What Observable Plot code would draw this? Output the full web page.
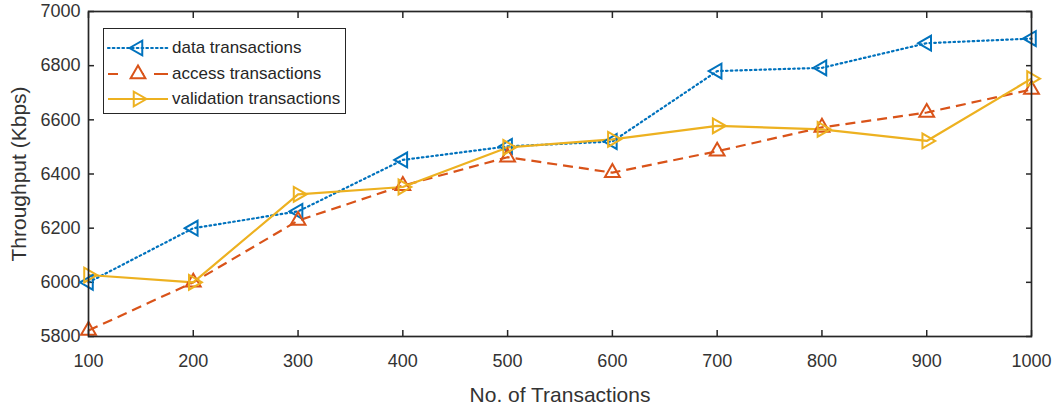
<!DOCTYPE html>
<html>
<head>
<meta charset="utf-8">
<script src="https://cdn.jsdelivr.net/npm/d3@7"></script>
<script src="https://cdn.jsdelivr.net/npm/@observablehq/plot@0.6"></script>
<style>
  html, body { margin: 0; padding: 0; background: #fff; }
  #wrap { position: relative; width: 1061px; height: 408px; font-family: "Liberation Sans", Arial, Helvetica, sans-serif; }
  #wrap svg [aria-label$="tick label"] text { font-size: 18px; fill: #333; }
  #wrap svg [aria-label$="label"]:not([aria-label$="tick label"]) text { font-size: 21px; fill: #333; }
  #legend { position: absolute; left: 103px; top: 28px; width: 243px; height: 86px; border: 1.5px solid #262626; background: #fff; box-sizing: border-box; }
  .row { position: absolute; left: 0; height: 26px; display: flex; align-items: center; }
  .row span { font-size: 17px; color: #262626; margin-left: 4px; }
</style>
</head>
<body>
<div id="wrap"></div>
<script>
const transactions = [100, 200, 300, 400, 500, 600, 700, 800, 900, 1000];
const dataTx       = [6000, 6200, 6262, 6452, 6502, 6520, 6780, 6792, 6883, 6900];
const accessTx     = [5822, 6000, 6228, 6357, 6462, 6405, 6484, 6572, 6627, 6712];
const validationTx = [6027, 6000, 6325, 6352, 6498, 6528, 6578, 6565, 6522, 6752];
const xTicks = [100, 200, 300, 400, 500, 600, 700, 800, 900, 1000];
const yTicks = [5800, 6000, 6200, 6400, 6600, 6800, 7000];

const seriesDefs = [
  {name: "data transactions", values: dataTx, color: "#0072BD", dash: "1.6 3.2", rotate: -90},
  {name: "access transactions", values: accessTx, color: "#D95319", dash: "10 6", rotate: 0},
  {name: "validation transactions", values: validationTx, color: "#EDB120", dash: null, rotate: 90}
];

const rows = seriesDefs.flatMap(s => transactions.map((t, i) => ({series: s.name, x: t, y: s.values[i]})));

const marks = [];
for (const s of seriesDefs) {
  const d = rows.filter(r => r.series === s.name);
  marks.push(Plot.line(d, {x: "x", y: "y", stroke: s.color, strokeWidth: 2.2, strokeDasharray: s.dash, strokeLinecap: s.dash && s.dash.startsWith("1.6") ? "round" : "butt"}));
}
for (const s of seriesDefs) {
  const d = rows.filter(r => r.series === s.name);
  marks.push(Plot.dot(d, {x: "x", y: "y", symbol: "triangle", r: 5.5, stroke: s.color, strokeWidth: 2, fill: "none", rotate: s.rotate}));
}

const fmt = d => String(d);
const blank = () => "";
const chart = Plot.plot({
  width: 1061,
  height: 408,
  marginLeft: 88,
  marginRight: 30,
  marginTop: 11,
  marginBottom: 72,
  style: {fontFamily: '"Liberation Sans", Arial, Helvetica, sans-serif', fontSize: "18px", color: "#333", background: "#fff"},
  x: {domain: [100, 1000]},
  y: {domain: [5800, 7000]},
  marks: [
    Plot.axisX(xTicks, {anchor: "bottom", tickSize: -6, tickPadding: 24, tickFormat: fmt, stroke: "#262626", fill: "#333", fontSize: 18, label: "No. of Transactions", labelAnchor: "center", labelArrow: "none", labelOffset: 65, strokeWidth: 1.5}),
    Plot.axisX(xTicks, {anchor: "top", tickSize: -6, tickFormat: blank, stroke: "#262626", strokeWidth: 1.5, label: null}),
    Plot.axisY(yTicks, {anchor: "left", tickSize: -6, tickPadding: 14, tickFormat: fmt, stroke: "#262626", fill: "#333", fontSize: 18, label: "Throughput (Kbps)", labelAnchor: "center", labelArrow: "none", labelOffset: 77, strokeWidth: 1.5}),
    Plot.axisY(yTicks, {anchor: "right", tickSize: -6, tickFormat: blank, stroke: "#262626", strokeWidth: 1.5, label: null}),
    ...marks,
    Plot.frame({stroke: "#262626", strokeWidth: 1.7})
  ]
});
const wrap = document.getElementById("wrap");
wrap.appendChild(chart);

// Legend
const legend = document.createElement("div");
legend.id = "legend";
seriesDefs.forEach((s, i) => {
  const row = document.createElement("div");
  row.className = "row";
  row.style.top = (6 + i * 25.5) + "px";
  const sym = d3.symbol(d3.symbolTriangle, Math.PI * 30)();
  const svg = `<svg width="64" height="26" style="overflow:visible">
    <line x1="4" x2="64" y1="13" y2="13" stroke="${s.color}" stroke-width="2.2" ${s.dash ? `stroke-dasharray="${s.name.startsWith('access') ? '10 16 10' : s.dash}"` : ""} ${s.dash && s.dash.startsWith("1.6") ? 'stroke-linecap="round"' : ""}/>
    <path d="${sym}" transform="translate(34,13) rotate(${s.rotate})" fill="${s.name.startsWith('access') ? '#fff' : 'none'}" stroke="${s.color}" stroke-width="2"/>
  </svg>`;
  row.innerHTML = svg + `<span>${s.name}</span>`;
  legend.appendChild(row);
});
wrap.appendChild(legend);
</script>
</body>
</html>
